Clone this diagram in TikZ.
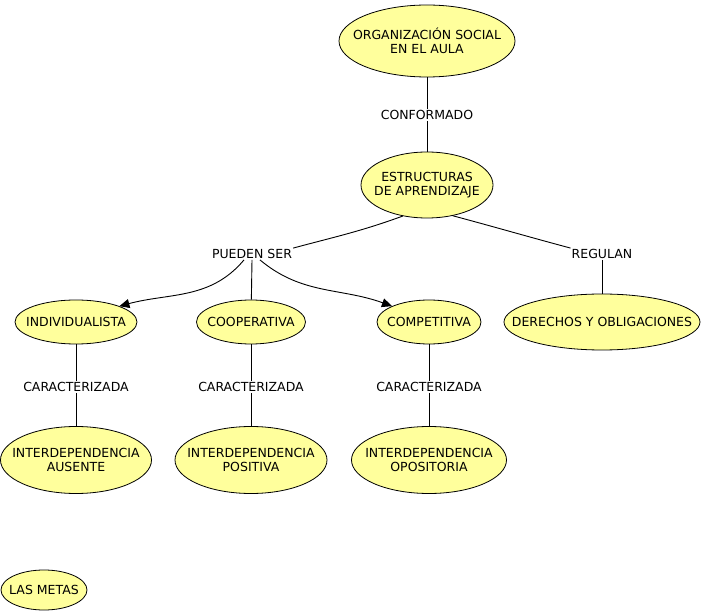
\documentclass[tikz,border=0pt]{standalone}
\usepackage{fontspec}
\setmainfont{DejaVu Sans}
\usepackage{xcolor}
\usepackage{tikz}
\usetikzlibrary{shapes.geometric, arrows.meta, positioning}
\definecolor{conceptfill}{RGB}{255,255,156}
\tikzset{
    conceptbox/.style={ellipse, draw=black, line width=0.8pt, fill=conceptfill, inner sep=0pt},
    conceptlabel/.style={align=center, inner sep=0pt, font=\fontsize{12.5}{14}\selectfont},
    linkword/.style={fill=white, inner sep=1pt, font=\fontsize{12.5}{14}\selectfont},
    plainline/.style={draw=black, line width=0.9pt},
    arrowline/.style={plainline, -{Triangle[length=10pt, width=9pt]}},
}

\begin{document}
\begin{tikzpicture}[x=1pt, y=-1pt]
    \useasboundingbox (0,0) rectangle (702,612);
    % concepts
    \node[conceptbox, minimum width=176pt, minimum height=72pt,
        label={[conceptlabel]center:ORGANIZACIÓN SOCIAL\\EN EL AULA}] (org) at (427,41) {};
    \node[conceptbox, minimum width=132pt, minimum height=66pt,
        label={[conceptlabel]center:ESTRUCTURAS\\DE APRENDIZAJE}] (estr) at (427,185) {};
    \node[conceptbox, minimum width=122pt, minimum height=44pt,
        label={[conceptlabel]center:INDIVIDUALISTA}] (indiv) at (76,322) {};
    \node[conceptbox, minimum width=109pt, minimum height=44pt,
        label={[conceptlabel]center:COOPERATIVA}] (coop) at (251,322) {};
    \node[conceptbox, minimum width=104pt, minimum height=44pt,
        label={[conceptlabel]center:COMPETITIVA}] (comp) at (429,322) {};
    \node[conceptbox, minimum width=196pt, minimum height=56pt,
        label={[conceptlabel]center:DERECHOS Y OBLIGACIONES}] (dere) at (602,322) {};
    \node[conceptbox, minimum width=151pt, minimum height=67pt,
        label={[conceptlabel]center:INTERDEPENDENCIA\\AUSENTE}] (ausente) at (76,460) {};
    \node[conceptbox, minimum width=152pt, minimum height=67pt,
        label={[conceptlabel]center:INTERDEPENDENCIA\\POSITIVA}] (positiva) at (251,460) {};
    \node[conceptbox, minimum width=155pt, minimum height=67pt,
        label={[conceptlabel]center:INTERDEPENDENCIA\\OPOSITORIA}] (opositoria) at (429,460) {};
    \node[conceptbox, minimum width=86pt, minimum height=40pt,
        label={[conceptlabel]center:LAS METAS}] (metas) at (44,590) {};

    % linking words
    \node[linkword] (conf) at (427,115) {CONFORMADO};
    \node[linkword] (pueden) at (252,254) {PUEDEN SER};
    \node[linkword] (regulan) at (602,254) {REGULAN};
    \node[linkword] (car1) at (76,387) {CARACTERIZADA};
    \node[linkword] (car2) at (251,387) {CARACTERIZADA};
    \node[linkword] (car3) at (429,387) {CARACTERIZADA};

    % connectors
    \draw[plainline] (org) -- (conf);
    \draw[plainline] (conf) -- (estr);
    \draw[plainline] (estr.232) to[out=200, in=15] (pueden.north east);
    \draw[plainline] (estr.310) to[out=-15, in=165] (regulan.north west);
    \draw[plainline] (regulan) -- (dere);
    \draw[arrowline] (pueden.south) ++(-8,0) to[out=230, in=15] (indiv.north east);
    \draw[plainline] (pueden.south) -- (coop);
    \draw[arrowline] (pueden.south) ++(8,0) to[out=-40, in=160] (comp.north west);
    \draw[plainline] (indiv) -- (car1);
    \draw[plainline] (car1) -- (ausente);
    \draw[plainline] (coop) -- (car2);
    \draw[plainline] (car2) -- (positiva);
    \draw[plainline] (comp) -- (car3);
    \draw[plainline] (car3) -- (opositoria);
\end{tikzpicture}
\end{document}
